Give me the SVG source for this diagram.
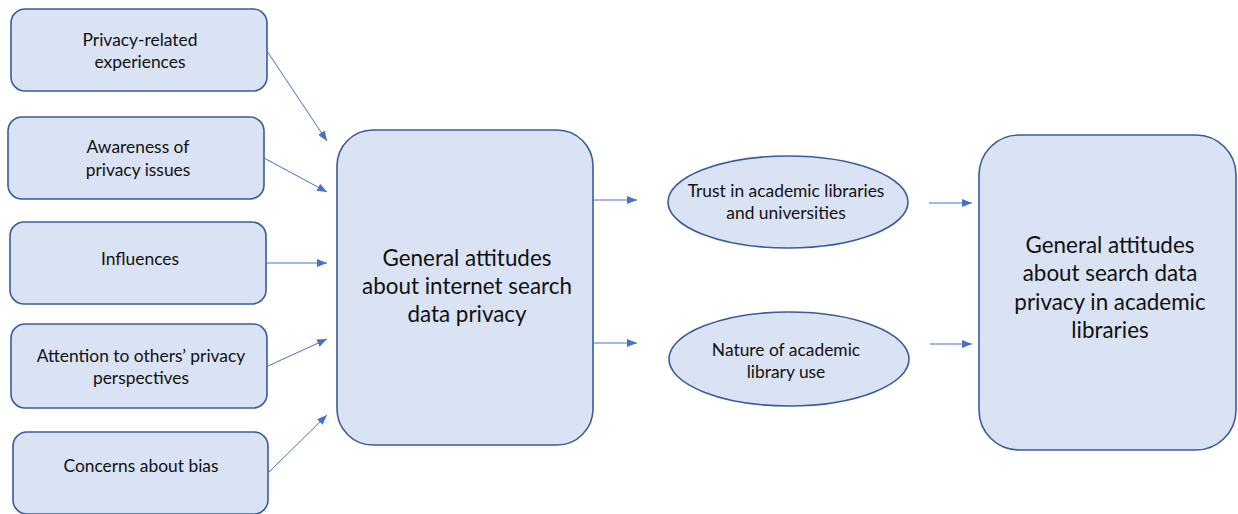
<svg xmlns="http://www.w3.org/2000/svg" width="1238" height="514" viewBox="0 0 1238 514">
  <style>
    .box { fill: #DAE3F3; stroke: #3A5C9A; stroke-width: 1.6; }
    .lbl { font-family: Lato, "Open Sans", "Liberation Sans", sans-serif; fill: #111111; text-anchor: middle; }
    .s { font-size: 17.4px; }
    .l { font-size: 22.4px; }
    .conn line { stroke: #4472C4; stroke-width: 1; marker-end: url(#arrow); }
  </style>
  <defs>
    <marker id="arrow" markerUnits="userSpaceOnUse" markerWidth="10" markerHeight="8" refX="10" refY="4" orient="auto">
      <path d="M0,0 L10,4 L0,8 Z" fill="#4472C4"/>
    </marker>
  </defs>
  <rect width="1238" height="514" fill="#FFFFFF"/>

  <g id="node-experiences">
    <rect class="box" x="11" y="9" width="256" height="82" rx="14"/>
    <text class="lbl s" x="140" y="46">Privacy-related</text>
    <text class="lbl s" x="140" y="68">experiences</text>
  </g>
  <g id="node-awareness">
    <rect class="box" x="8" y="117" width="256" height="82" rx="14"/>
    <text class="lbl s" x="138" y="153">Awareness of</text>
    <text class="lbl s" x="138" y="176">privacy issues</text>
  </g>
  <g id="node-influences">
    <rect class="box" x="10" y="222" width="256" height="82" rx="14"/>
    <text class="lbl s" x="140" y="265">Influences</text>
  </g>
  <g id="node-attention">
    <rect class="box" x="11" y="324" width="256" height="84" rx="14"/>
    <text class="lbl s" x="141" y="362">Attention to others’ privacy</text>
    <text class="lbl s" x="141" y="384">perspectives</text>
  </g>
  <g id="node-bias">
    <rect class="box" x="13" y="432" width="255" height="82" rx="14"/>
    <text class="lbl s" x="141" y="472">Concerns about bias</text>
  </g>

  <g id="node-general">
    <rect class="box" x="337" y="130" width="256" height="315" rx="36"/>
    <text class="lbl l" x="467" y="266">General attitudes</text>
    <text class="lbl l" x="467" y="294">about internet search</text>
    <text class="lbl l" x="467" y="322">data privacy</text>
  </g>

  <g id="node-trust">
    <ellipse class="box" cx="788" cy="202" rx="120" ry="46"/>
    <text class="lbl s" x="786" y="197">Trust in academic libraries</text>
    <text class="lbl s" x="786" y="219">and universities</text>
  </g>
  <g id="node-use">
    <ellipse class="box" cx="789" cy="359" rx="120" ry="47"/>
    <text class="lbl s" x="786" y="356">Nature of academic</text>
    <text class="lbl s" x="786" y="378">library use</text>
  </g>

  <g id="node-library">
    <rect class="box" x="979" y="135" width="257" height="315" rx="40"/>
    <text class="lbl l" x="1110" y="253">General attitudes</text>
    <text class="lbl l" x="1110" y="281">about search data</text>
    <text class="lbl l" x="1110" y="310">privacy in academic</text>
    <text class="lbl l" x="1110" y="338">libraries</text>
  </g>

  <g id="connectors" class="conn">
    <line x1="267" y1="51" x2="327" y2="141"/>
    <line x1="264" y1="158" x2="327" y2="192"/>
    <line x1="266" y1="263" x2="327" y2="263"/>
    <line x1="268" y1="366" x2="327" y2="339"/>
    <line x1="269" y1="472" x2="327" y2="415"/>
    <line x1="593" y1="200" x2="637" y2="200"/>
    <line x1="593" y1="343" x2="637" y2="343"/>
    <line x1="929" y1="203" x2="972" y2="203"/>
    <line x1="930" y1="344" x2="972" y2="344"/>
  </g>
</svg>
